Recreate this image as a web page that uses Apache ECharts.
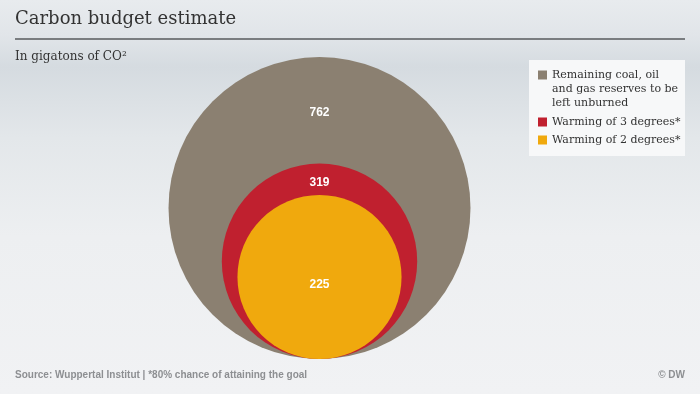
<!DOCTYPE html>
<html>
<head>
<meta charset="utf-8">
<script src="https://cdn.jsdelivr.net/npm/echarts@6/dist/echarts.min.js"></script>
<style>
html,body{margin:0;padding:0;}
#chart{width:700px;height:394px;}
</style>
</head>
<body>
<div id="chart"></div>
<script>
// ---- data ----
var categories = ['Remaining coal, oil and gas reserves to be left unburned', 'Warming of 3 degrees*', 'Warming of 2 degrees*'];
var legendLabels = ['Remaining coal, oil\nand gas reserves to be\nleft unburned', 'Warming of 3 degrees*', 'Warming of 2 degrees*'];
var values = [762, 319, 225];
var colors = ['#8b8071', '#c0202f', '#f0a90d'];
var titleText = 'Carbon budget estimate';
var subtitleText = 'In gigatons of CO²';
var sourceText = 'Source: Wuppertal Institut | *80% chance of attaining the goal';
var creditText = '© DW';

// label position along each circle, as fraction of its diameter from the top
var labelFrac = [0.185, 0.1, 0.55];

var chart = echarts.init(document.getElementById('chart'), null, {renderer: 'canvas'});
var maxR = Math.sqrt(Math.max.apply(null, values));

var serifFont = '"DejaVu Serif", Georgia, serif';

var legendChildren = [{
  type: 'rect', shape: {x: 0, y: 0, width: 156, height: 96},
  style: {fill: '#f7f8f9'}
}];
var itemY = [15, 62, 80];
legendLabels.forEach(function (lab, i) {
  legendChildren.push({
    type: 'rect', shape: {x: 9, y: itemY[i] - 4.5, width: 9, height: 9},
    style: {fill: colors[i]}
  });
  legendChildren.push({
    type: 'text', x: 23, y: itemY[i] - 7,
    style: {text: lab, font: '11px ' + serifFont, fill: '#333', lineHeight: 14, verticalAlign: 'top'}
  });
});

var option = {
  backgroundColor: {
    type: 'linear', x: 0, y: 0, x2: 0, y2: 1,
    colorStops: [
      {offset: 0, color: '#e8ebee'},
      {offset: 0.09, color: '#e1e5e9'},
      {offset: 0.17, color: '#d5dbe0'},
      {offset: 0.35, color: '#e3e7ea'},
      {offset: 0.6, color: '#edeff1'},
      {offset: 1, color: '#f1f2f4'}
    ]
  },
  animation: false,
  grid: {left: 168, width: 303, top: 57, bottom: 35},
  xAxis: {type: 'value', min: -1, max: 1, show: false},
  yAxis: {type: 'value', min: 0, max: 2 * maxR, show: false},
  series: [{
    type: 'custom',
    coordinateSystem: 'cartesian2d',
    data: values.map(function (v, i) { return [0, v, i]; }),
    renderItem: function (params, api) {
      var v = api.value(1);
      var i = api.value(2);
      var s = Math.sqrt(v);
      var c = api.coord([0, s]);
      var r = api.size([0, s])[1];
      var top = c[1] - r;
      return {
        type: 'group',
        children: [{
          type: 'circle',
          shape: {cx: c[0], cy: c[1], r: r},
          style: {fill: colors[i]}
        }, {
          type: 'text',
          x: c[0], y: top + 2 * r * labelFrac[i],
          style: {
            text: String(v), fill: '#ffffff',
            font: 'bold 12px "Liberation Sans", Arial, sans-serif',
            align: 'center', verticalAlign: 'middle'
          }
        }]
      };
    },
    encode: {x: 0, y: 1}
  }],
  graphic: [
    {type: 'text', left: 15, top: 10,
      style: {text: titleText, font: '18px ' + serifFont, fill: '#333'}},
    {type: 'rect', shape: {x: 15, y: 38, width: 670, height: 2}, style: {fill: '#7a7d80'}},
    {type: 'text', left: 15, top: 51,
      style: {text: subtitleText, font: '12px ' + serifFont, fill: '#333'}},
    {type: 'group', left: 529, top: 60, children: legendChildren},
    {type: 'text', left: 15, top: 370,
      style: {text: sourceText, font: 'bold 10px "Liberation Sans", Arial, sans-serif', fill: '#8d8f92'}},
    {type: 'text', right: 15, top: 370,
      style: {text: creditText, font: 'bold 10px "Liberation Sans", Arial, sans-serif', fill: '#8d8f92'}}
  ]
};
chart.setOption(option);
</script>
</body>
</html>
